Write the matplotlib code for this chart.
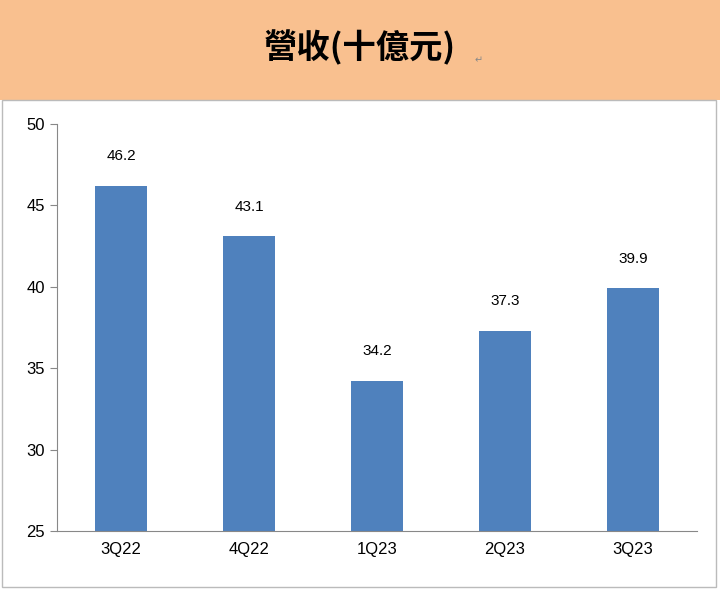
import matplotlib.pyplot as plt
from matplotlib.patches import Rectangle

categories = ['3Q22', '4Q22', '1Q23', '2Q23', '3Q23']
revenue = [46.2, 43.1, 34.2, 37.3, 39.9]
title = '營收(十億元)'

plt.rcParams['font.family'] = ['Noto Sans CJK TC', 'DejaVu Sans']

fig = plt.figure(figsize=(7.2, 5.89), dpi=100)

# orange header band
fig.patches.append(Rectangle((0, 1 - 100 / 589), 1, 100 / 589, transform=fig.transFigure,
                             facecolor='#F9C08F', edgecolor='none', zorder=0))
# thin frame around the chart area
fig.patches.append(Rectangle((2 / 720, 2 / 589), 714 / 720, 487 / 589, transform=fig.transFigure,
                             facecolor='none', edgecolor='#BBBBBB', lw=1, zorder=1))
fig.text(0.5, 1 - 48 / 589, title, ha='center', va='center', fontsize=24, fontweight='bold')
fig.text(0.665, 1 - 60 / 589, '↵', ha='center', va='center', fontsize=7, color='#888888',
         family='DejaVu Sans')

ax = fig.add_axes([57 / 720, 1 - 531 / 589, 640 / 720, 407 / 589])
x = range(len(categories))
ax.bar(x, revenue, width=0.4, color='#4F81BD')
for xi, v in zip(x, revenue):
    ax.text(xi, v + 1.4, f'{v:.1f}', ha='center', va='bottom', fontsize=11, family='Liberation Sans')

ax.set_ylim(25, 50)
ax.set_xlim(-0.5, len(categories) - 0.5)
ax.set_yticks(range(25, 51, 5))
ax.set_xticks(list(x))
ax.set_xticklabels(categories)
for lab in ax.get_xticklabels() + ax.get_yticklabels():
    lab.set_family('Liberation Sans')
    lab.set_fontsize(12)
for s in ['top', 'right']:
    ax.spines[s].set_visible(False)
ax.spines['left'].set_color('#888888')
ax.spines['bottom'].set_color('#888888')
ax.tick_params(axis='x', length=0, pad=8)
ax.tick_params(axis='y', direction='out', length=5, color='#888888')

fig.savefig('out.png', dpi=100)
